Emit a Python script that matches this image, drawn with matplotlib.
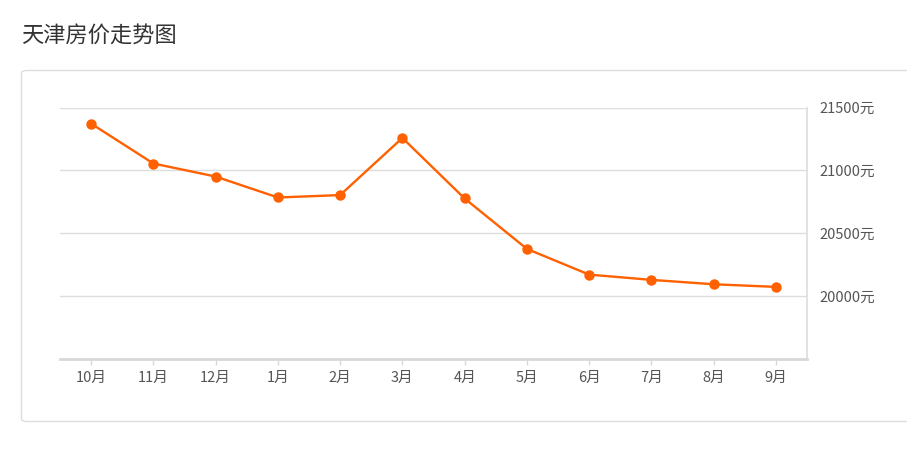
import matplotlib
matplotlib.use("Agg")
import matplotlib.pyplot as plt
from matplotlib.patches import FancyBboxPatch

plt.rcParams['font.family'] = ['Noto Sans CJK SC', 'DejaVu Sans']

# données
mois = ["10月", "11月", "12月", "1月", "2月", "3月", "4月", "5月", "6月", "7月", "8月", "9月"]
prix = [21373, 21055, 20951, 20784, 20803, 21259, 20776, 20374, 20169, 20127, 20092, 20071]
y_ticks = [20000, 20500, 21000, 21500]

W, H = 907, 457
fig = plt.figure(figsize=(W / 100, H / 100), dpi=100)

# titre
fig.text(21 / W, 1 - 36 / H, "天津房价走势图", fontsize=16, color="#333333",
         ha="left", va="center")

# cadre
cadre = FancyBboxPatch((21.5 / W, 1 - 421.5 / H), 900 / W, 351 / H,
                       boxstyle="round,pad=0,rounding_size=0.006",
                       transform=fig.transFigure, fill=False,
                       edgecolor="#dddddd", linewidth=1, clip_on=False)
fig.patches.append(cadre)

left, right = 60 / W, 807 / W
top, bottom = 1 - 107.7 / H, 1 - 358.5 / H
ax = fig.add_axes([left, bottom, right - left, top - bottom])

x = range(len(mois))
ax.plot(x, prix, color="#ff6000", linewidth=1.7, marker="o", markersize=6.5,
        zorder=3, clip_on=False)

ax.set_xlim(-0.5, len(mois) - 0.5)
ax.set_ylim(19500, 21500)
ax.set_xticks(list(x))
ax.set_xticklabels(mois)
ax.set_yticks(y_ticks)
ax.set_yticklabels([f"{v}元" for v in y_ticks])
ax.yaxis.tick_right()

for v in y_ticks:
    ax.axhline(v, color="#dddddd", linewidth=1, zorder=1)

ax.spines["left"].set_visible(False)
ax.spines["top"].set_visible(False)
ax.spines["right"].set_color("#dddddd")
ax.spines["right"].set_linewidth(1.2)
ax.spines["bottom"].set_color("#d8d8d8")
ax.spines["bottom"].set_linewidth(2)

ax.tick_params(axis="x", length=4, width=1, color="#d8d8d8", labelsize=10.5,
               labelcolor="#555555", pad=5)
ax.tick_params(axis="y", length=0, labelsize=10.5, labelcolor="#555555", pad=9)

fig.savefig("out.png", dpi=100)
